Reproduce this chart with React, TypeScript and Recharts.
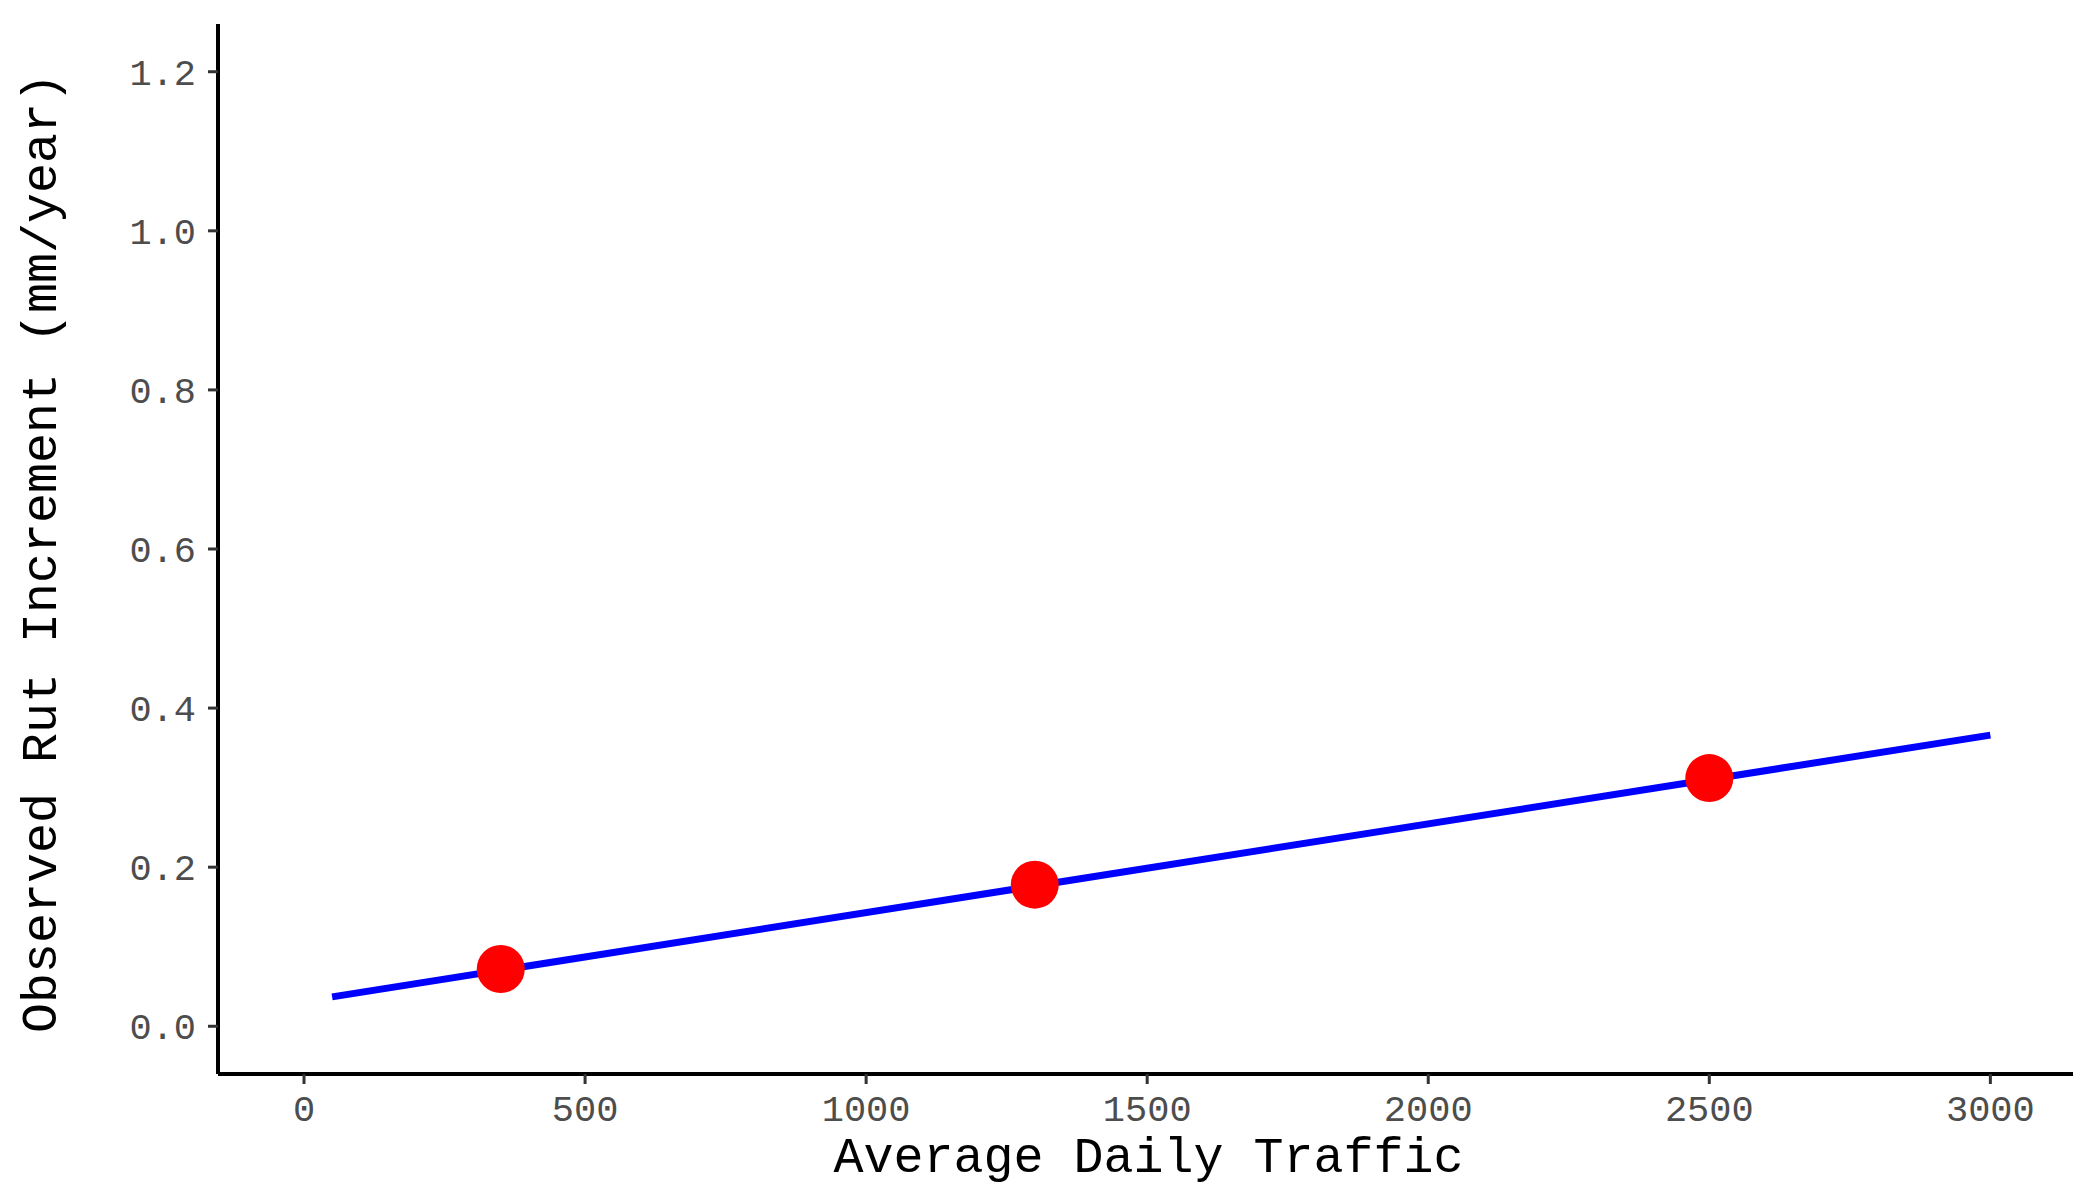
import React from "react";
import { ComposedChart, Line, Scatter, XAxis, YAxis, Label } from "recharts";

// Observed data points (Average Daily Traffic vs. rut increment)
const trafficPoints = [350, 1300, 2500];
const rutPoints = [0.072, 0.178, 0.312];

// Fitted line end points
const fitTraffic = [50, 3000];
const fitRut = [0.037, 0.366];

const xTicks = [0, 500, 1000, 1500, 2000, 2500, 3000];
const yTicks = [0, 0.2, 0.4, 0.6, 0.8, 1.0, 1.2];

const pointData = trafficPoints.map((x, i) => ({ x, y: rutPoints[i] }));
const lineData = fitTraffic.map((x, i) => ({ x, y: fitRut[i] }));

const FONT = "'Liberation Mono', 'Courier New', monospace";

const XTitle = (props: any) => {
  const vb = props.viewBox || {};
  return (
    <text
      x={vb.x + vb.width / 2 + 3}
      y={1158}
      textAnchor="middle"
      dominantBaseline="central"
      fontFamily={FONT}
      fontSize={50}
      fill="#000000"
    >
      Average Daily Traffic
    </text>
  );
};

const YTitle = (props: any) => {
  const vb = props.viewBox || {};
  const cy = vb.y + vb.height / 2 + 4;
  return (
    <text
      x={42}
      y={cy}
      transform={`rotate(-90, 42, ${cy})`}
      textAnchor="middle"
      dominantBaseline="central"
      fontFamily={FONT}
      fontSize={50}
      fill="#000000"
    >
      Observed Rut Increment (mm/year)
    </text>
  );
};

const Dot = (props: any) => (
  <circle cx={props.cx} cy={props.cy} r={24} fill="#FF0000" />
);

export default function App() {
  return (
    <div style={{ position: "absolute", left: 0, top: 0, width: 2100, height: 1200, background: "#fff" }}>
      <ComposedChart
        width={2100}
        height={1200}
        margin={{ top: 24, right: 27, left: 0, bottom: 0 }}
      >
        <XAxis
          type="number"
          dataKey="x"
          domain={[-153, 3147]}
          ticks={xTicks}
          allowDataOverflow
          height={126}
          axisLine={{ stroke: "#000000", strokeWidth: 4 }}
          tickLine={{ stroke: "#333333", strokeWidth: 3 }}
          tickSize={10}
          tickMargin={11}
          tick={{ fontFamily: FONT, fontSize: 37, fill: "#4D4D4D" }}
        >
          <Label content={<XTitle />} />
        </XAxis>
        <YAxis
          type="number"
          dataKey="y"
          domain={[-0.06, 1.26]}
          ticks={yTicks}
          allowDataOverflow
          width={218}
          axisLine={{ stroke: "#000000", strokeWidth: 4 }}
          tickLine={{ stroke: "#333333", strokeWidth: 3 }}
          tickSize={10}
          tickMargin={12}
          tickFormatter={(v: number) => v.toFixed(1)}
          tick={{ fontFamily: FONT, fontSize: 37, fill: "#4D4D4D" }}
        >
          <Label content={<YTitle />} />
        </YAxis>
        <Line
          data={lineData}
          dataKey="y"
          type="linear"
          stroke="#0000FF"
          strokeWidth={7}
          dot={false}
          activeDot={false}
          isAnimationActive={false}
        />
        <Scatter
          data={pointData}
          dataKey="y"
          fill="#FF0000"
          shape={<Dot />}
          isAnimationActive={false}
        />
      </ComposedChart>
    </div>
  );
}
